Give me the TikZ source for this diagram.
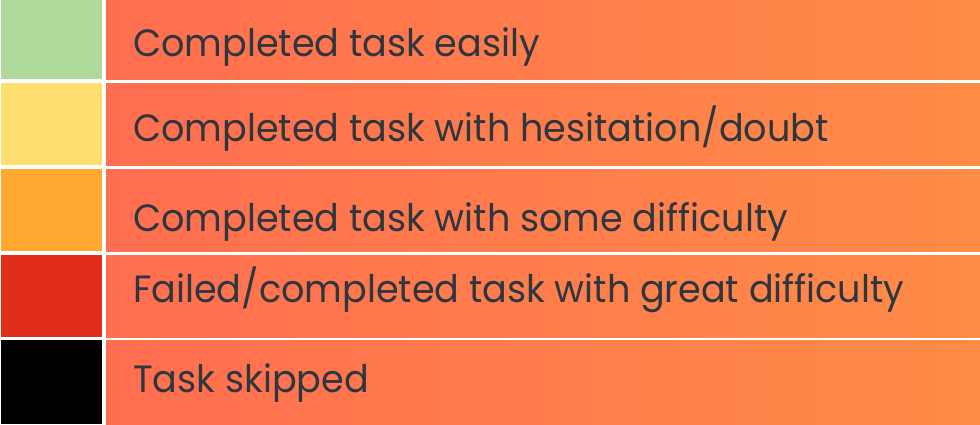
\documentclass[tikz,border=0pt]{standalone}
\usepackage{fontspec}
\newfontfamily\gothic{Poppins}
\definecolor{cgreen}{HTML}{B0DA9B}
\definecolor{cyellow}{HTML}{FFDF70}
\definecolor{corange}{HTML}{FFA930}
\definecolor{cred}{HTML}{E02E19}
\definecolor{cblack}{HTML}{000000}
\definecolor{barL}{HTML}{FF6E50}
\definecolor{barR}{HTML}{FF8C47}
\definecolor{txt}{HTML}{2E3640}
\tikzset{
  swatch/.style={draw=none},
  label/.style={anchor=base west,inner sep=0pt,text=txt,font=\gothic\fontsize{38}{42}\selectfont},
}
\newcommand{\lbl}[1]{\scalebox{0.962}[1]{#1}}
\begin{document}
\begin{tikzpicture}[x=1pt,y=-1pt]
\useasboundingbox (0,0) rectangle (980,424);
\fill[white] (0,0) rectangle (980,424);
% rows
\foreach \top/\bot/\col in {0/79/cgreen,83/165/cyellow,169/251/corange,255/337/cred,340/424/cblack}{
  \fill[\col] (1,\top) rectangle (102,\bot);
  \shade[left color=barL,right color=barR] (106,\top) rectangle (980,\bot);
}
\node[label] (t1) at (133,56) {\lbl{Completed task easily}};
\node[label] (t2) at (133,141) {\lbl{Completed task with hesitation/doubt}};
\node[label] (t3) at (133,231) {\lbl{Completed task with some difficulty}};
\node[label] (t4) at (133,302) {\lbl{Failed/completed task with great difficulty}};
\node[label] (t5) at (133,392) {\lbl{Task skipped}};
\end{tikzpicture}
\end{document}
